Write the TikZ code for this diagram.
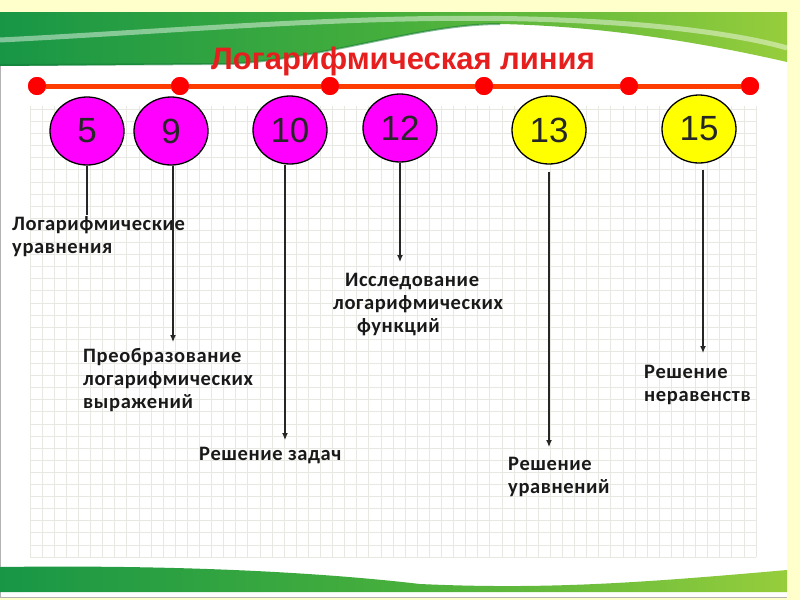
\documentclass[tikz,border=0pt]{standalone}
\usepackage{fontspec}
\setmainfont{Carlito}
\newfontfamily\lblfont[LetterSpace=3]{Carlito}
\newfontfamily\arialfont{Liberation Sans}
\usetikzlibrary{arrows.meta,shapes.geometric}
\definecolor{pagebg}{RGB}{255,255,204}
\definecolor{grnA}{RGB}{24,150,70}
\definecolor{grnM}{RGB}{70,175,60}
\definecolor{grnB}{RGB}{150,205,60}
\definecolor{titlered}{RGB}{230,30,30}
\definecolor{lineorange}{RGB}{255,60,0}
\definecolor{dotred}{RGB}{255,0,0}
\definecolor{mag}{RGB}{255,0,255}
\definecolor{yel}{RGB}{255,255,0}
\definecolor{gridc}{RGB}{232,232,226}
\tikzset{
  numcircle/.style={ellipse, draw=black, line width=1.3pt, minimum width=74pt, minimum height=68pt, inner sep=0pt,
    font=\arialfont\fontsize{35}{35}\selectfont, text=black!85},
  magc/.style={numcircle, fill=mag},
  yelc/.style={numcircle, fill=yel},
  lbl/.style={font=\lblfont\bfseries\fontsize{20.5}{23}\selectfont, align=left, inner sep=0pt, anchor=north west, text=black!90},
  conn/.style={line width=1.2pt, black!85},
  arr/.style={conn, -{Latex[length=7pt,width=6pt]}},
  dot/.style={circle, fill=dotred, minimum size=18pt, inner sep=0pt}
}
\newcommand{\fl}{\rule{0pt}{15pt}}
\begin{document}
\begin{tikzpicture}[x=1pt,y=-1pt]
\useasboundingbox (0,0) rectangle (800,600);
% page and slide
\fill[pagebg] (0,0) rectangle (800,600);
\fill[white] (0,12) rectangle (787,597);
\draw[black!30, line width=1pt] (0.5,12) -- (0.5,597) -- (787,597);
% top green swoosh
\shade[left color=grnA, right color=grnB, middle color=grnM]
  (0,12) -- (787,12) -- (787,62) .. controls (700,42) and (600,26) .. (500,24)
  .. controls (420,24) and (330,58) .. (230,64) -- (0,66) -- cycle;
\draw[white, opacity=0.45, line width=5pt] (0,40) .. controls (200,30) and (400,10) .. (600,22) .. controls (700,28) and (760,40) .. (787,48);
\draw[grnA!80!black, opacity=0.5, line width=2pt] (0,65) -- (230,64) .. controls (330,58) and (420,24) .. (500,24);
% bottom green swoosh
\shade[left color=grnA, right color=grnB, middle color=grnM]
  (0,567) .. controls (150,565) and (300,570) .. (420,584) .. controls (550,590) and (650,582) .. (787,570)
  -- (787,592) -- (0,592) -- cycle;
% grid
\foreach \i in {0,...,60} { \draw[gridc, line width=0.8pt] ({30+12.1*\i},106) -- ({30+12.1*\i},557); }
\foreach \j in {0,...,37} { \draw[gridc, line width=0.8pt] (30,{557-12.1*\j}) -- (756,{557-12.1*\j}); }
% title
\node (title) at (403,61) {\arialfont\bfseries\fontsize{31}{31}\selectfont\color{titlered}Логарифмическая линия};
% red line with dots
\node[dot] (d1) at (37,86) {};
\node[dot] (d2) at (180,86) {};
\node[dot] (d3) at (330,86) {};
\node[dot] (d4) at (484,86) {};
\node[dot] (d5) at (629,86) {};
\node[dot] (d6) at (750,86) {};
\draw[lineorange, line width=5pt] (d1) -- (d2) -- (d3) -- (d4) -- (d5) -- (d6);
\foreach \d in {d1,d2,d3,d4,d5,d6} { \fill[dotred] (\d) circle (9pt); }
% circles
\node[magc] (c5) at (87,131) {5};
\node[magc] (c9) at (171,131) {9};
\node[magc] (c10) at (290,130) {10};
\node[magc] (c12) at (400,128) {12};
\node[yelc] (c13) at (549,130) {13};
\node[yelc] (c15) at (699,129) {15};
% labels
\node[lbl] (t5) at (12,215) {\fl Логарифмические\\уравнения};
\node[lbl] (t9) at (83,347) {\fl Преобразование\\логарифмических\\выражений};
\node[lbl] (t10) at (199,445) {\fl Решение задач};
\node[lbl] (t12) at (333,271) {\fl\hspace*{12pt}Исследование\\логарифмических\\\hspace*{24pt}функций};
\node[lbl] (t13) at (508,455) {\fl Решение\\уравнений};
\node[lbl] (t15) at (644,363) {\fl Решение\\неравенств};
% connectors
\draw[conn] (c5.south) -- (c5.south |- t5.north);
\draw[arr, shorten >=5pt] ([xshift=2pt]c9.south) -- ([xshift=2pt]c9.south |- t9.north);
\draw[arr, shorten >=5pt] ([xshift=-5pt]c10.south) -- ([xshift=-5pt]c10.south |- t10.north);
\draw[arr, shorten >=9pt] (c12.south) -- (c12.south |- t12.north);
\draw[arr, shorten <=7pt, shorten >=8pt] (c13.south) -- (c13.south |- t13.north);
\draw[arr, shorten <=6pt, shorten >=10pt] ([xshift=4pt]c15.south) -- ([xshift=4pt]c15.south |- t15.north);
\end{tikzpicture}
\end{document}
